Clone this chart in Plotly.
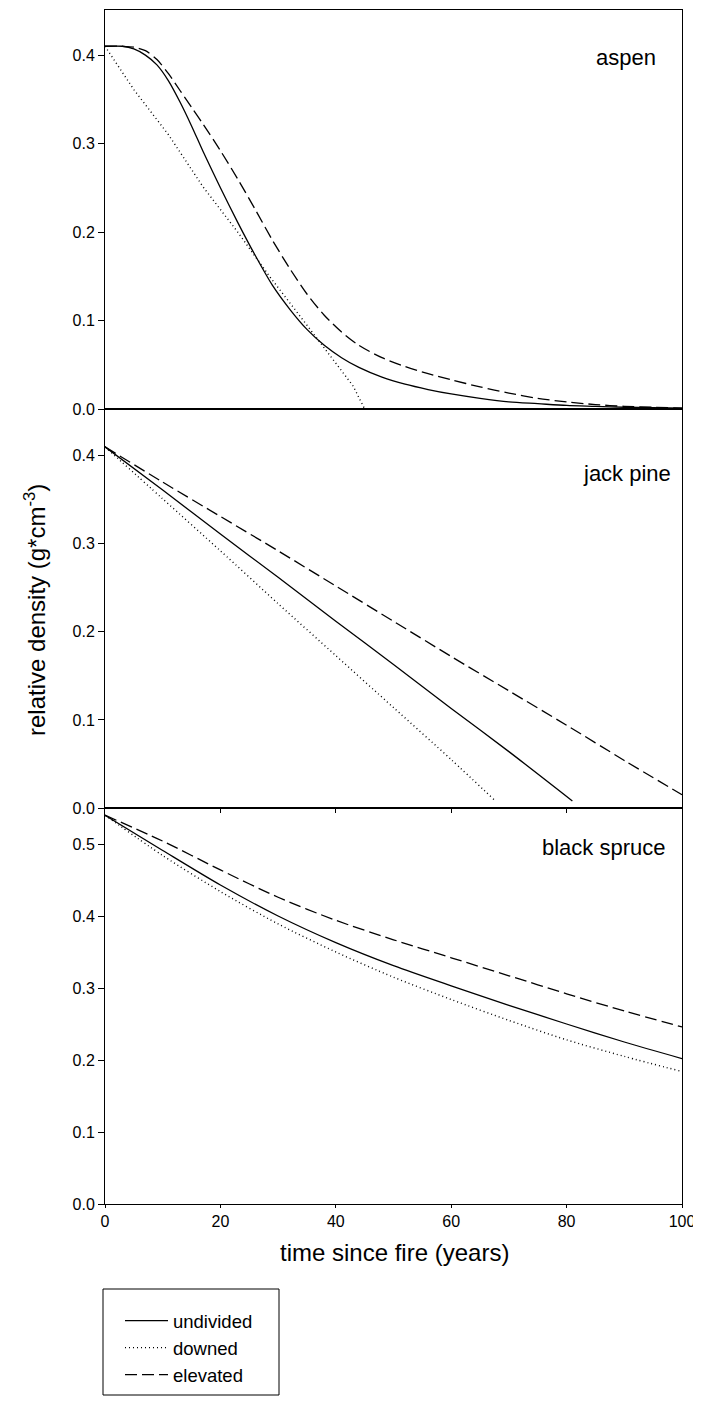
import plotly.graph_objects as go

# ---------------- data ----------------
series_names = ["undivided", "downed", "elevated"]
panel_labels = ["aspen", "jack pine", "black spruce"]

# aspen
aspen_x = [0, 3, 5, 7, 9, 11, 13, 15, 17, 20, 23, 26, 29, 32, 35, 38, 41, 44, 48, 52,
           56, 60, 65, 70, 75, 80, 85, 90, 95, 100]
aspen_undivided = [0.410, 0.410, 0.407, 0.400, 0.389, 0.371, 0.347, 0.320, 0.291, 0.250,
                   0.211, 0.174, 0.140, 0.113, 0.090, 0.072, 0.058, 0.047, 0.036, 0.028,
                   0.022, 0.017, 0.012, 0.008, 0.006, 0.004, 0.003, 0.002, 0.0015, 0.001]
aspen_elevated = [0.410, 0.410, 0.409, 0.405, 0.395, 0.379, 0.360, 0.341, 0.322, 0.292,
                  0.260, 0.226, 0.191, 0.159, 0.130, 0.106, 0.087, 0.072, 0.058, 0.048,
                  0.040, 0.033, 0.025, 0.018, 0.012, 0.008, 0.005, 0.003, 0.002, 0.001]
aspen_down_x = [0, 5, 11, 17, 23, 28.5, 34.5, 40, 43, 45]
aspen_downed = [0.410, 0.361, 0.310, 0.251, 0.200, 0.150, 0.099, 0.052, 0.026, 0.0]

# jack pine
pine_und_x = [0, 10, 20, 30, 40, 50, 60, 70, 81]
pine_undivided = [0.410, 0.361, 0.311, 0.262, 0.212, 0.163, 0.113, 0.064, 0.008]
pine_down_x = [0, 10, 20, 30, 40, 50, 60, 67.5]
pine_downed = [0.410, 0.351, 0.292, 0.232, 0.173, 0.114, 0.055, 0.009]
pine_elev_x = [0, 10, 20, 30, 40, 50, 60, 70, 80, 90, 100]
pine_elevated = [0.410, 0.370, 0.331, 0.292, 0.252, 0.212, 0.172, 0.133, 0.094, 0.054, 0.015]

# black spruce
spruce_x = [0, 10, 20, 30, 40, 50, 60, 70, 80, 90, 100]
spruce_undivided = [0.540, 0.491, 0.443, 0.400, 0.363, 0.331, 0.303, 0.276, 0.250, 0.225, 0.202]
spruce_downed = [0.540, 0.484, 0.434, 0.389, 0.350, 0.315, 0.284, 0.255, 0.228, 0.205, 0.184]
spruce_elevated = [0.540, 0.504, 0.464, 0.426, 0.394, 0.367, 0.342, 0.317, 0.292, 0.268, 0.246]

x_ticks = [0, 20, 40, 60, 80, 100]
y_ticks_small = [0.0, 0.1, 0.2, 0.3, 0.4]
y_ticks_large = [0.0, 0.1, 0.2, 0.3, 0.4, 0.5]

# ---------------- styling ----------------
FONT = "Liberation Sans, Arial, sans-serif"
styles = {
    "undivided": dict(color="black", width=1.3, dash="solid"),
    "downed": dict(color="black", width=1.4, dash="1px,3px"),
    "elevated": dict(color="black", width=1.3, dash="12px,5px"),
}

panels = [
    (1, [(aspen_x, aspen_undivided), (aspen_down_x, aspen_downed), (aspen_x, aspen_elevated)]),
    (2, [(pine_und_x, pine_undivided), (pine_down_x, pine_downed), (pine_elev_x, pine_elevated)]),
    (3, [(spruce_x, spruce_undivided), (spruce_x, spruce_downed), (spruce_x, spruce_elevated)]),
]

fig = go.Figure()
for row, data in panels:
    suffix = "" if row == 1 else str(row)
    for name, (xs, ys) in zip(series_names, data):
        shape = "linear" if (name == "downed" and row == 1) else "spline"
        fig.add_trace(go.Scatter(
            x=xs, y=ys, mode="lines", name=name,
            line=dict(**styles[name], shape=shape, smoothing=0.8),
            xaxis="x" + suffix, yaxis="y" + suffix,
            showlegend=(row == 1), legendgroup=name,
        ))

# The page body has an 8px default margin: figure origin sits at (8, 8) on screen.
OFF = 8
W, H = 690, 1388
# plot area in screen pixels: left 105, right 682, top 10, bottom 1204
L = 105 - OFF
R = W - (682 - OFF)
T = 10 - OFF
B = H - (1204 - OFF)
PW, PH = W - L - R, H - T - B


def px_x(sx):
    return (sx - OFF - L) / PW


def px_y(sy):
    return (1204 - sy) / PH


b1 = px_y(808)
b2 = px_y(409)

axis_common = dict(showline=True, linecolor="black", linewidth=1, mirror=True,
                   showgrid=False, zeroline=False, tickcolor="black",
                   ticklabeloverflow="allow",
                   tickfont=dict(family=FONT, size=16, color="black"))

fig.update_layout(
    width=W, height=H,
    margin=dict(l=L, r=R, t=T, b=B, pad=0),
    paper_bgcolor="white", plot_bgcolor="white",
    font=dict(family=FONT, color="black"),
    # top panel
    xaxis=dict(domain=[0, 1], range=[0, 100], anchor="y", ticks="", showticklabels=False,
               **axis_common),
    yaxis=dict(domain=[b2, 1], range=[0, 0.451], anchor="x", tickvals=y_ticks_small,
               tickformat=".1f", ticks="outside", ticklen=6, **axis_common),
    # middle panel
    xaxis2=dict(domain=[0, 1], range=[0, 100], anchor="y2", tickvals=x_ticks[1:-1],
                ticks="outside", ticklen=4, showticklabels=False, **axis_common),
    yaxis2=dict(domain=[b1, b2], range=[0, 0.453], anchor="x2", tickvals=y_ticks_small,
                tickformat=".1f", ticks="outside", ticklen=6, **axis_common),
    # bottom panel
    xaxis3=dict(domain=[0, 1], range=[0, 100], anchor="y3", tickvals=x_ticks,
                ticks="outside", ticklen=3, **axis_common),
    yaxis3=dict(domain=[0, b1], range=[0, 0.55], anchor="x3", tickvals=y_ticks_large,
                tickformat=".1f", ticks="outside", ticklen=6, **axis_common),
    legend=dict(
        x=px_x(120), y=px_y(1302), xanchor="left", yanchor="top",
        bgcolor="rgba(0,0,0,0)", borderwidth=0, itemwidth=43,
        font=dict(family=FONT, size=18.5, color="black"),
        traceorder="normal", tracegroupgap=0,
    ),
    showlegend=True,
)

# panel labels
label_pos = [(658, 58), (673, 473), (668, 847)]
for text, (rx, cy) in zip(panel_labels, label_pos):
    fig.add_annotation(text=text, xref="paper", yref="paper",
                       x=px_x(rx), y=px_y(cy),
                       xanchor="right", yanchor="middle", showarrow=False,
                       font=dict(family=FONT, size=22, color="black"))

# axis titles
fig.add_annotation(text="relative density (g*cm<sup>-3</sup>)", xref="paper", yref="paper",
                   x=px_x(35), y=px_y(610), textangle=-90,
                   xanchor="center", yanchor="middle", showarrow=False,
                   font=dict(family=FONT, size=24, color="black"))
fig.add_annotation(text="time since fire (years)", xref="paper", yref="paper",
                   x=px_x(394), y=px_y(1252),
                   xanchor="center", yanchor="middle", showarrow=False,
                   font=dict(family=FONT, size=24, color="black"))

# legend frame
fig.add_shape(type="rect", xref="paper", yref="paper",
              x0=px_x(103), x1=px_x(279),
              y0=px_y(1395), y1=px_y(1289),
              line=dict(color="black", width=1), fillcolor="rgba(0,0,0,0)")

fig.write_html("out.html")
